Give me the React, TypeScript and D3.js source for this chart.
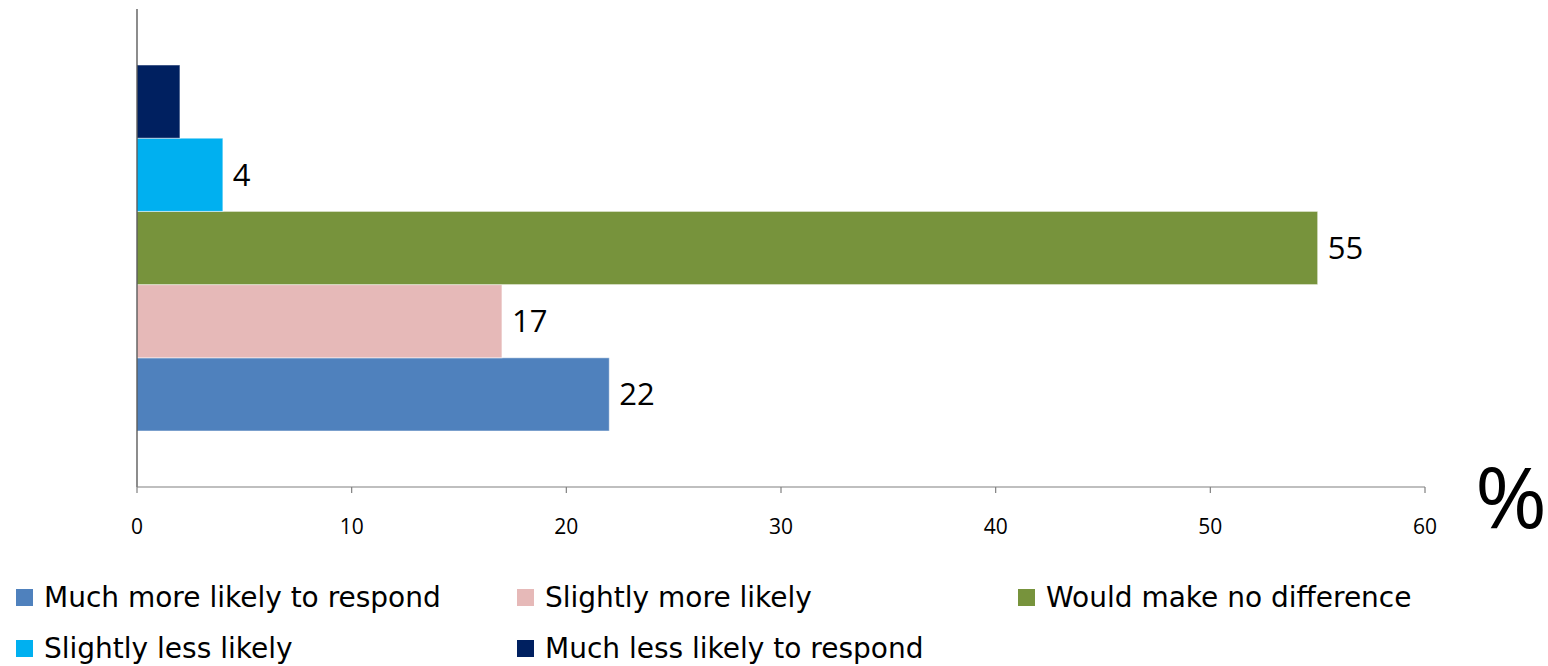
import React from "react";
import * as d3 from "d3";

const categories = [
  "Much more likely to respond",
  "Slightly more likely",
  "Would make no difference",
  "Slightly less likely",
  "Much less likely to respond",
];
const values = [22, 17, 55, 4, 2];
const showLabel = [true, true, true, true, false];
const colors = ["#4F81BD", "#E6B9B8", "#77933C", "#00B0F0", "#002060"];
const ticks = [0, 10, 20, 30, 40, 50, 60];

const W = 1548;
const H = 666;
const left = 137;
const right = 1425;
const top = 9;
const bottom = 487;

export default function App() {
  const x = d3.scaleLinear().domain([0, 60]).range([left, right]);
  // bars drawn bottom-up: first series lowest
  const y = d3
    .scaleBand<number>()
    .domain(d3.range(categories.length).reverse())
    .range([65, 431])
    .paddingInner(0);

  const legendCols = [16, 517, 1018];
  const legendRows = [597, 648];

  return (
    <svg
      width={W}
      height={H}
      style={{ position: "absolute", left: 0, top: 0, background: "#fff" }}
    >
      {values.map((v, i) => (
        <g key={i}>
          <rect
            x={x(0)}
            y={y(i)!}
            width={x(v) - x(0)}
            height={y.bandwidth()}
            fill={colors[i]}
            stroke="#ffffff"
            strokeOpacity={0.5}
            strokeWidth={1}
          />
          {showLabel[i] && (
            <text
              x={x(v) + 10}
              y={y(i)! + y.bandwidth() / 2}
              dy="0.35em"
              fontFamily="'Open Sans', 'Noto Sans', sans-serif"
              fontSize={31}
              fill="#000"
            >
              {v}
            </text>
          )}
        </g>
      ))}
      {/* axes */}
      <line x1={left} x2={left} y1={top} y2={bottom} stroke="#404040" strokeWidth={1.2} />
      <line x1={left} x2={right} y1={bottom} y2={bottom} stroke="#808080" strokeWidth={1.2} />
      {ticks.map((t) => (
        <g key={t}>
          <line x1={x(t)} x2={x(t)} y1={bottom} y2={bottom + 6} stroke="#808080" strokeWidth={1.2} />
          <text
            x={x(t)}
            y={527}
            dy="0.35em"
            textAnchor="middle"
            fontFamily="'Open Sans', 'Noto Sans', sans-serif"
            fontSize={21}
            fill="#000"
          >
            {t}
          </text>
        </g>
      ))}
      <text
        x={1475}
        y={499}
        dy="0.35em"
        fontFamily="'Open Sans', 'Noto Sans', sans-serif"
        fontSize={84}
        textLength={72}
        lengthAdjust="spacingAndGlyphs"
        fill="#000"
      >
        %
      </text>
      {/* legend */}
      {categories.map((c, i) => {
        const col = i < 3 ? i : i - 3;
        const row = i < 3 ? 0 : 1;
        const lx = legendCols[col];
        const ly = legendRows[row];
        return (
          <g key={c}>
            <rect x={lx} y={ly - 8} width={17} height={17} fill={colors[i]} />
            <text
              x={lx + 28}
              y={ly}
              dy="0.35em"
              fontFamily="'DejaVu Sans', Verdana, sans-serif"
              fontSize={28}
              fill="#000"
            >
              {c}
            </text>
          </g>
        );
      })}
    </svg>
  );
}
